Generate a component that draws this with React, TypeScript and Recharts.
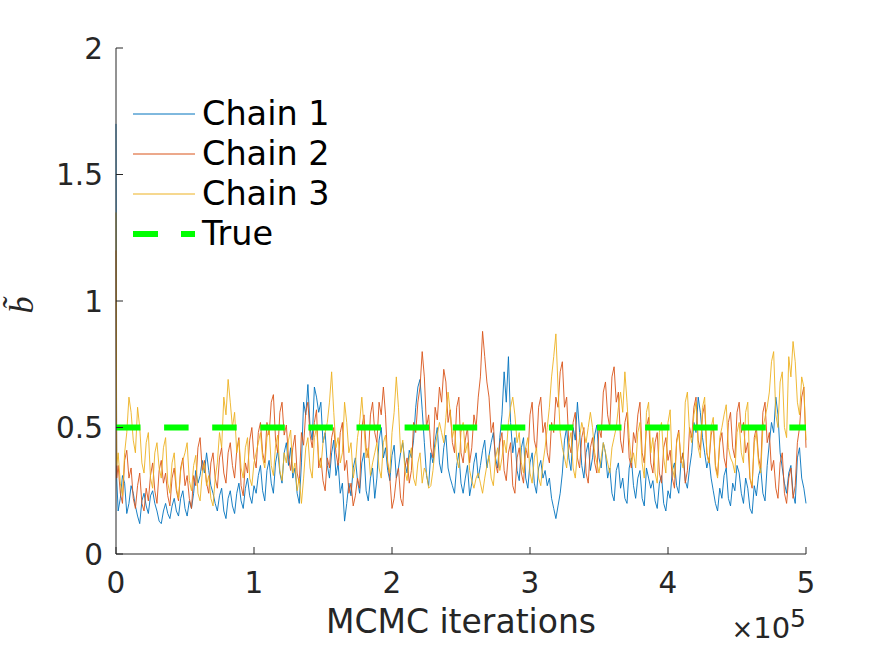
import React from 'react';
import { LineChart, Line, XAxis, YAxis, Legend } from 'recharts';

// Sampling grid: samples read every HALF_STEP iterations (after a burn-in start value at iteration 0).
// CHAINn holds the readings on the full steps, CHAINn_HALF the readings between them.
const HALF_STEP = 1562.5;
const FIRST_ITER = 500;

const SERIES_NAMES = ['Chain 1', 'Chain 2', 'Chain 3', 'True'];
const SERIES_COLORS = ['#0072BD', '#D95319', '#EDB120', '#00FF00'];

const X_TICKS = [0, 100000, 200000, 300000, 400000, 500000];
const Y_TICKS = [0, 0.5, 1, 1.5, 2];

const TRUE_B = 0.5;
const START_VALUES = [1.7, 1.2, 1.35];

const CHAIN1 = [
  0.30, 0.22, 0.28, 0.20, 0.24, 0.15, 0.21, 0.19, 0.23, 0.20,
  0.13, 0.17, 0.16, 0.19, 0.17, 0.22, 0.18, 0.21, 0.24, 0.28,
  0.37, 0.40, 0.27, 0.20, 0.23, 0.17, 0.22, 0.19, 0.24, 0.21,
  0.26, 0.23, 0.27, 0.31, 0.25, 0.33, 0.28, 0.36, 0.32, 0.40,
  0.35, 0.30, 0.24, 0.36, 0.55, 0.50, 0.66, 0.56, 0.44, 0.35,
  0.40, 0.31, 0.24, 0.13, 0.28, 0.34, 0.29, 0.36, 0.25, 0.30,
  0.22, 0.45, 0.38, 0.33, 0.39, 0.30, 0.40, 0.36, 0.41, 0.45,
  0.66, 0.57, 0.31, 0.40, 0.45, 0.36, 0.42, 0.34, 0.27, 0.35,
  0.28, 0.30, 0.23, 0.36, 0.30, 0.41, 0.34, 0.44, 0.38, 0.46,
  0.72, 0.78, 0.40, 0.33, 0.42, 0.30, 0.36, 0.28, 0.34, 0.30,
  0.27, 0.22, 0.14, 0.24, 0.45, 0.38, 0.50, 0.60, 0.35, 0.40,
  0.33, 0.47, 0.38, 0.44, 0.30, 0.24, 0.33, 0.26, 0.22, 0.34,
  0.27, 0.30, 0.22, 0.34, 0.26, 0.21, 0.28, 0.20, 0.25, 0.33,
  0.27, 0.36, 0.29, 0.34, 0.52, 0.62, 0.46, 0.34, 0.30, 0.20,
  0.26, 0.31, 0.22, 0.28, 0.35, 0.24, 0.30, 0.18, 0.27, 0.31,
  0.24, 0.35, 0.52, 0.62, 0.40, 0.28, 0.32, 0.24, 0.38, 0.30,
  0.20,
];

const CHAIN1_HALF = [
  0.17, 0.31, 0.16, 0.27, 0.19, 0.12, 0.24, 0.16, 0.25, 0.17,
  0.12, 0.20, 0.14, 0.22, 0.15, 0.25, 0.15, 0.18, 0.33, 0.31,
  0.32, 0.33, 0.24, 0.17, 0.26, 0.14, 0.25, 0.16, 0.28, 0.18,
  0.30, 0.20, 0.24, 0.35, 0.21, 0.37, 0.24, 0.41, 0.28, 0.44,
  0.42, 0.34, 0.20, 0.60, 0.67, 0.45, 0.62, 0.60, 0.48, 0.30,
  0.45, 0.36, 0.28, 0.20, 0.23, 0.38, 0.24, 0.40, 0.21, 0.34,
  0.30, 0.50, 0.42, 0.29, 0.43, 0.34, 0.44, 0.32, 0.38, 0.58,
  0.69, 0.44, 0.27, 0.36, 0.50, 0.32, 0.47, 0.30, 0.24, 0.40,
  0.24, 0.35, 0.28, 0.40, 0.35, 0.45, 0.39, 0.48, 0.34, 0.55,
  0.60, 0.52, 0.46, 0.29, 0.46, 0.26, 0.40, 0.24, 0.37, 0.33,
  0.30, 0.18, 0.19, 0.32, 0.50, 0.33, 0.45, 0.48, 0.30, 0.44,
  0.38, 0.51, 0.34, 0.40, 0.34, 0.21, 0.36, 0.30, 0.20, 0.38,
  0.22, 0.33, 0.19, 0.30, 0.29, 0.18, 0.31, 0.17, 0.22, 0.36,
  0.24, 0.40, 0.26, 0.40, 0.48, 0.56, 0.40, 0.38, 0.25, 0.17,
  0.22, 0.34, 0.19, 0.25, 0.32, 0.20, 0.26, 0.16, 0.23, 0.34,
  0.21, 0.44, 0.48, 0.55, 0.34, 0.24, 0.35, 0.20, 0.42, 0.26,
];

const CHAIN2 = [
  0.30, 0.24, 0.37, 0.30, 0.22, 0.27, 0.20, 0.26, 0.31, 0.25,
  0.33, 0.28, 0.23, 0.30, 0.25, 0.34, 0.27, 0.22, 0.31, 0.42,
  0.33, 0.28, 0.36, 0.30, 0.38, 0.32, 0.40, 0.35, 0.41, 0.27,
  0.36, 0.45, 0.38, 0.48, 0.40, 0.52, 0.60, 0.45, 0.56, 0.47,
  0.38, 0.42, 0.32, 0.48, 0.56, 0.47, 0.52, 0.34, 0.29, 0.38,
  0.46, 0.40, 0.48, 0.33, 0.24, 0.19, 0.30, 0.50, 0.42, 0.55,
  0.48, 0.60, 0.66, 0.36, 0.18, 0.30, 0.22, 0.34, 0.28, 0.52,
  0.60, 0.80, 0.50, 0.42, 0.58, 0.66, 0.73, 0.52, 0.44, 0.58,
  0.40, 0.45, 0.36, 0.55, 0.62, 0.88, 0.68, 0.48, 0.36, 0.44,
  0.33, 0.40, 0.27, 0.38, 0.32, 0.42, 0.55, 0.45, 0.58, 0.48,
  0.40, 0.52, 0.62, 0.72, 0.58, 0.44, 0.52, 0.38, 0.46, 0.32,
  0.42, 0.36, 0.50, 0.64, 0.55, 0.70, 0.60, 0.45, 0.52, 0.38,
  0.48, 0.55, 0.40, 0.50, 0.36, 0.44, 0.32, 0.42, 0.37, 0.30,
  0.45, 0.36, 0.28, 0.50, 0.58, 0.45, 0.55, 0.40, 0.47, 0.35,
  0.44, 0.38, 0.52, 0.42, 0.56, 0.48, 0.40, 0.30, 0.46, 0.38,
  0.56, 0.44, 0.33, 0.26, 0.36, 0.24, 0.30, 0.22, 0.44, 0.62,
  0.42,
];

const CHAIN2_HALF = [
  0.35, 0.20, 0.41, 0.34, 0.18, 0.32, 0.17, 0.21, 0.36, 0.20,
  0.37, 0.32, 0.19, 0.34, 0.21, 0.38, 0.31, 0.18, 0.27, 0.46,
  0.37, 0.24, 0.40, 0.26, 0.42, 0.28, 0.44, 0.30, 0.46, 0.23,
  0.32, 0.50, 0.34, 0.52, 0.36, 0.47, 0.63, 0.40, 0.60, 0.51,
  0.33, 0.47, 0.28, 0.43, 0.60, 0.42, 0.57, 0.38, 0.25, 0.34,
  0.50, 0.35, 0.52, 0.37, 0.28, 0.23, 0.26, 0.55, 0.38, 0.60,
  0.44, 0.55, 0.55, 0.30, 0.22, 0.34, 0.19, 0.38, 0.33, 0.48,
  0.66, 0.70, 0.55, 0.38, 0.53, 0.60, 0.68, 0.57, 0.40, 0.62,
  0.36, 0.50, 0.42, 0.50, 0.70, 0.78, 0.62, 0.52, 0.32, 0.48,
  0.29, 0.44, 0.24, 0.42, 0.28, 0.38, 0.60, 0.41, 0.62, 0.52,
  0.36, 0.48, 0.58, 0.76, 0.62, 0.40, 0.56, 0.34, 0.50, 0.28,
  0.46, 0.32, 0.46, 0.68, 0.50, 0.74, 0.64, 0.40, 0.56, 0.34,
  0.44, 0.60, 0.36, 0.54, 0.32, 0.48, 0.28, 0.46, 0.41, 0.26,
  0.49, 0.40, 0.33, 0.46, 0.62, 0.41, 0.59, 0.36, 0.51, 0.31,
  0.48, 0.34, 0.56, 0.38, 0.60, 0.52, 0.44, 0.26, 0.50, 0.34,
  0.60, 0.48, 0.37, 0.22, 0.40, 0.20, 0.34, 0.27, 0.50, 0.66,
];

const CHAIN3 = [
  0.35, 0.28, 0.40, 0.62, 0.45, 0.58, 0.36, 0.44, 0.30, 0.40,
  0.34, 0.42, 0.28, 0.36, 0.26, 0.33, 0.40, 0.29, 0.35, 0.24,
  0.32, 0.27, 0.22, 0.30, 0.48, 0.62, 0.69, 0.50, 0.40, 0.34,
  0.42, 0.30, 0.36, 0.44, 0.38, 0.46, 0.35, 0.43, 0.33, 0.40,
  0.45, 0.32, 0.25, 0.20, 0.42, 0.34, 0.46, 0.38, 0.44, 0.52,
  0.72, 0.42, 0.36, 0.60, 0.40, 0.30, 0.46, 0.62, 0.38, 0.31,
  0.40, 0.34, 0.44, 0.36, 0.48, 0.70, 0.40, 0.33, 0.38, 0.30,
  0.36, 0.28, 0.32, 0.27, 0.42, 0.52, 0.44, 0.64, 0.46, 0.38,
  0.48, 0.40, 0.33, 0.26, 0.32, 0.24, 0.35, 0.30, 0.38, 0.33,
  0.45, 0.52, 0.62, 0.44, 0.36, 0.42, 0.32, 0.38, 0.30, 0.36,
  0.50, 0.70, 0.87, 0.48, 0.38, 0.44, 0.34, 0.40, 0.52, 0.44,
  0.56, 0.40, 0.32, 0.44, 0.36, 0.42, 0.50, 0.64, 0.72, 0.46,
  0.40, 0.48, 0.36, 0.56, 0.40, 0.32, 0.48, 0.38, 0.52, 0.34,
  0.44, 0.38, 0.60, 0.48, 0.55, 0.42, 0.58, 0.40, 0.50, 0.34,
  0.46, 0.55, 0.42, 0.36, 0.48, 0.40, 0.56, 0.30, 0.44, 0.36,
  0.50, 0.58, 0.76, 0.55, 0.68, 0.50, 0.78, 0.84, 0.60, 0.70,
  0.45,
];

const CHAIN3_HALF = [
  0.40, 0.23, 0.48, 0.56, 0.40, 0.50, 0.32, 0.48, 0.26, 0.44,
  0.30, 0.46, 0.24, 0.40, 0.22, 0.37, 0.44, 0.25, 0.39, 0.21,
  0.36, 0.31, 0.19, 0.36, 0.42, 0.55, 0.60, 0.56, 0.45, 0.30,
  0.46, 0.27, 0.40, 0.48, 0.34, 0.50, 0.31, 0.47, 0.29, 0.36,
  0.49, 0.36, 0.30, 0.30, 0.46, 0.30, 0.50, 0.34, 0.48, 0.60,
  0.56, 0.46, 0.40, 0.52, 0.44, 0.35, 0.52, 0.50, 0.42, 0.36,
  0.44, 0.30, 0.47, 0.32, 0.56, 0.58, 0.45, 0.29, 0.42, 0.27,
  0.40, 0.34, 0.26, 0.33, 0.47, 0.48, 0.54, 0.56, 0.50, 0.34,
  0.52, 0.44, 0.29, 0.30, 0.28, 0.30, 0.39, 0.27, 0.42, 0.38,
  0.40, 0.58, 0.55, 0.48, 0.32, 0.46, 0.28, 0.42, 0.27, 0.42,
  0.58, 0.78, 0.66, 0.42, 0.34, 0.48, 0.30, 0.46, 0.48, 0.50,
  0.50, 0.36, 0.38, 0.40, 0.32, 0.46, 0.58, 0.56, 0.60, 0.36,
  0.34, 0.52, 0.30, 0.60, 0.46, 0.28, 0.52, 0.32, 0.57, 0.30,
  0.48, 0.34, 0.64, 0.44, 0.60, 0.38, 0.62, 0.36, 0.54, 0.30,
  0.50, 0.59, 0.38, 0.32, 0.52, 0.36, 0.60, 0.27, 0.48, 0.32,
  0.54, 0.64, 0.80, 0.50, 0.72, 0.46, 0.70, 0.76, 0.55, 0.66,
];

const pick = (full: number[], half: number[], k: number) =>
  k % 2 === 0 ? full[k / 2] : half[(k - 1) / 2];

const rows: Array<Record<string, number>> = [
  { it: 0, c1: START_VALUES[0], c2: START_VALUES[1], c3: START_VALUES[2], truth: TRUE_B },
];
for (let k = 0; k < CHAIN1.length + CHAIN1_HALF.length; k++) {
  rows.push({
    it: k === 0 ? FIRST_ITER : k * HALF_STEP,
    c1: pick(CHAIN1, CHAIN1_HALF, k),
    c2: pick(CHAIN2, CHAIN2_HALF, k),
    c3: pick(CHAIN3, CHAIN3_HALF, k),
    truth: TRUE_B,
  });
}

const AXIS_COLOR = '#262626';
const SANS = 'DejaVu Sans, sans-serif';

const XTick = (props: any) => {
  const { x, y, payload } = props;
  return (
    <g>
      <line x1={x} y1={y} x2={x} y2={y - 7} stroke={AXIS_COLOR} strokeWidth={1} />
      <text x={x} y={y + 39} textAnchor="middle" fontSize={29.5} fontFamily={SANS} fill={AXIS_COLOR}>
        {String(payload.value / 100000)}
      </text>
    </g>
  );
};

const YTick = (props: any) => {
  const { x, y, payload } = props;
  return (
    <g>
      <line x1={x} y1={y} x2={x + 7} y2={y} stroke={AXIS_COLOR} strokeWidth={1} />
      <text x={x - 13} y={y + 10.5} textAnchor="end" fontSize={29.5} fontFamily={SANS} fill={AXIS_COLOR}>
        {String(payload.value)}
      </text>
    </g>
  );
};

const XLabel = (props: any) => {
  const { x, y, width } = props.viewBox;
  return (
    <g>
      <text x={x + width / 2} y={y + 79} textAnchor="middle" fontSize={33} fontFamily={SANS} fill={AXIS_COLOR}>
        MCMC iterations
      </text>
      <text x={x + width} y={y + 84} textAnchor="end" fontFamily={SANS} fill={AXIS_COLOR}>
        <tspan fontSize={26}>×</tspan>
        <tspan fontSize={29}>10</tspan>
        <tspan fontSize={25} dy={-11}>5</tspan>
      </text>
    </g>
  );
};

const YLabel = (props: any) => {
  const { x, y, height } = props.viewBox;
  const cx = x + 33;
  const cy = y + height / 2 + 4;
  return (
    <text
      x={cx}
      y={cy}
      transform={`rotate(-90, ${cx}, ${cy})`}
      textAnchor="middle"
      fontSize={34}
      fontStyle="italic"
      fontFamily="Liberation Serif, serif"
      fill={AXIS_COLOR}
    >
      {'b\u0303'}
    </text>
  );
};

const LegendBox = () => (
  <div style={{ display: 'flex', flexDirection: 'column' }}>
    {SERIES_NAMES.map((name, i) => (
      <div key={name} style={{ display: 'flex', alignItems: 'center', height: 40 }}>
        <svg width={63} height={40} style={{ display: 'block' }}>
          {i < 3 ? (
            <line x1={0} y1={20} x2={62} y2={20} stroke={SERIES_COLORS[i]} strokeWidth={1} />
          ) : (
            <line x1={0} y1={20} x2={62} y2={20} stroke={SERIES_COLORS[i]} strokeWidth={6} strokeDasharray="25 23" />
          )}
        </svg>
        <span
          style={{
            marginLeft: 6,
            fontSize: 33.5,
            fontFamily: SANS,
            color: '#000',
            lineHeight: '40px',
            whiteSpace: 'nowrap',
          }}
        >
          {name}
        </span>
      </div>
    ))}
  </div>
);

export default function App() {
  return (
    <div style={{ position: 'absolute', left: 0, top: 0, width: 891, height: 645, background: '#fff' }}>
      <LineChart
        width={891}
        height={645}
        data={rows}
        margin={{ top: 48, right: 85, bottom: 61, left: 0 }}
      >
        <XAxis
          type="number"
          dataKey="it"
          domain={[0, 500000]}
          ticks={X_TICKS}
          interval={0}
          height={30}
          tickSize={0}
          tickMargin={0}
          tickLine={false}
          axisLine={{ stroke: AXIS_COLOR, strokeWidth: 1 }}
          tick={XTick}
          label={XLabel}
        />
        <YAxis
          type="number"
          domain={[0, 2]}
          ticks={Y_TICKS}
          interval={0}
          width={116}
          tickSize={0}
          tickMargin={0}
          tickLine={false}
          axisLine={{ stroke: AXIS_COLOR, strokeWidth: 1 }}
          tick={YTick}
          label={YLabel}
        />
        <Legend
          layout="vertical"
          align="center"
          verticalAlign="middle"
          content={LegendBox}
          wrapperStyle={{ position: 'absolute', left: 133, top: 94, width: 240 }}
        />
        <Line type="linear" dataKey="c1" name={SERIES_NAMES[0]} stroke={SERIES_COLORS[0]} strokeWidth={0.9} dot={false} isAnimationActive={false} />
        <Line type="linear" dataKey="c2" name={SERIES_NAMES[1]} stroke={SERIES_COLORS[1]} strokeWidth={0.9} dot={false} isAnimationActive={false} />
        <Line type="linear" dataKey="c3" name={SERIES_NAMES[2]} stroke={SERIES_COLORS[2]} strokeWidth={0.9} dot={false} isAnimationActive={false} />
        <Line
          type="linear"
          dataKey="truth"
          name={SERIES_NAMES[3]}
          stroke={SERIES_COLORS[3]}
          strokeWidth={6}
          strokeDasharray="24.5 23.6"
          strokeLinecap="butt"
          dot={false}
          isAnimationActive={false}
        />
      </LineChart>
    </div>
  );
}
